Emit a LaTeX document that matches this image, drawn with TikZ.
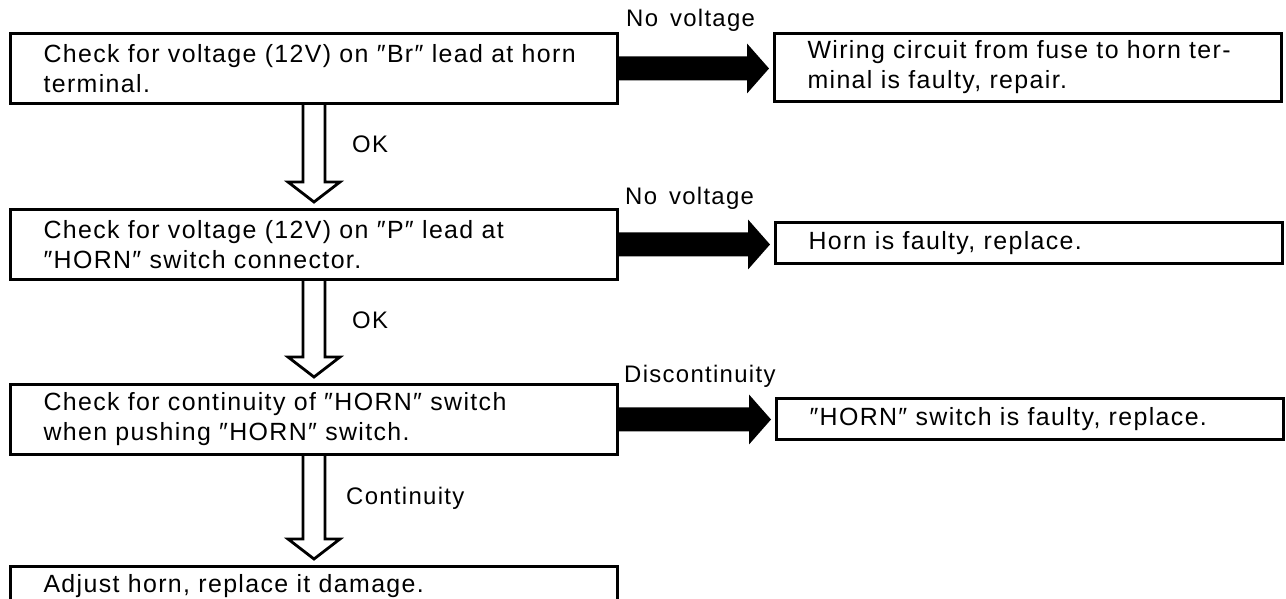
\documentclass[tikz,border=0pt]{standalone}
\usepackage{fontspec}
\setmainfont{Liberation Sans}[LetterSpace=5.5,WordSpace=1.5]
\usetikzlibrary{calc,positioning}

\begin{document}
\begin{tikzpicture}[
  x=1bp, y=1bp,
  font=\fontsize{25}{30}\selectfont,
  check/.style={draw, line width=3bp, anchor=north west, align=left,
                minimum width=607bp, minimum height=#1, text width=541bp,
                inner xsep=33bp, inner ysep=0pt},
  check/.default=70bp,
  result/.style={draw, line width=3bp, anchor=north west, align=left,
                 minimum width=507bp, minimum height=#1, text width=441bp,
                 inner xsep=33bp, inner ysep=0pt},
  result/.default=41bp,
  fault/.style={fill=black, to path={
      ($(\tikztostart.east)+(0,12)$) -- ($(\tikztostart.east -| \tikztotarget.west)+(-26,12)$)
      -- ++(0,13) -- ($(\tikztostart.east -| \tikztotarget.west)+(-4,0)$)
      -- ($(\tikztostart.east -| \tikztotarget.west)+(-26,-25)$) -- ++(0,13)
      -- ($(\tikztostart.east)+(0,-12)$) -- cycle}},
  pass/.style={draw, line width=2.8bp, line join=miter, to path={
      ($(\tikztostart.south)+(-11,0)$) -- ($(\tikztotarget.north)+(-11,26)$)
      -- ++(-15,0) -- ($(\tikztotarget.north)+(0,6)$)
      -- ($(\tikztotarget.north)+(26,26)$) -- ++(-15,0)
      -- ($(\tikztostart.south)+(11,0)$)}},
  lbl/.style={anchor=base west, inner sep=0pt, font=\fontsize{24}{28}\selectfont},
]
  \useasboundingbox (0,0) rectangle (1286,599);

  % checks on the left
  \node[check] (c1) at (9,567) {Check for voltage (12V) on ″Br″ lead at horn\\terminal.};
  \node[check] (c2) at (9,391) {Check for voltage (12V) on ″P″ lead at\\″HORN″ switch connector.};
  \node[check] (c3) at (9,216) {Check for continuity of ″HORN″ switch\\when pushing ″HORN″ switch.};
  \node[check=40bp] (c4) at (9,34) {Adjust horn, replace it damage.};

  % faults on the right
  \node[result=68bp] (r1) at (773,567) {Wiring circuit from fuse to horn ter-\\minal is faulty, repair.};
  \node[result] (r2) at (774,378) {Horn is faulty, replace.};
  \node[result] (r3) at (775,202) {″HORN″ switch is faulty, replace.};

  \path[fault] (c1) to (r1);
  \path[fault] (c2) to (r2);
  \path[fault] (c3) to (r3);

  \draw[pass] (c1) to (c2);
  \draw[pass] (c2) to (c3);
  \draw[pass] (c3) to (c4);

  % branch labels
  \node[lbl] (nv1) at ($(c1.north east)+(7,5)$) {No voltage};
  \node[lbl] (nv2) at ($(c2.north east)+(6,3)$) {No voltage};
  \node[lbl] (dis) at ($(c3.north east)+(5,0)$) {Discontinuity};
  \node[lbl] (ok1) at ($(c1.south)+(38,-48)$) {OK};
  \node[lbl] (ok2) at ($(c2.south)+(38,-48)$) {OK};
  \node[lbl] (cont) at ($(c3.south)+(32,-49)$) {Continuity};
\end{tikzpicture}
\end{document}
